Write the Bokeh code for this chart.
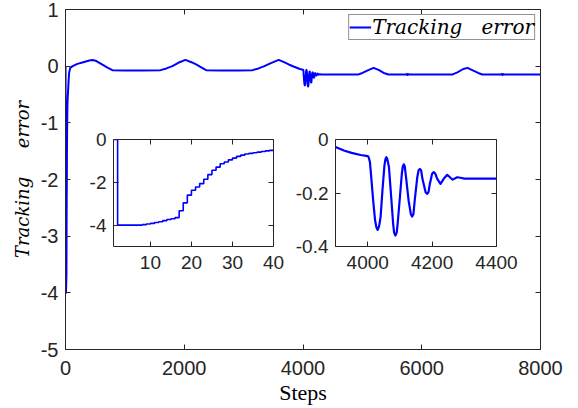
from bokeh.plotting import figure
from bokeh.models import (Range1d, FixedTicker, LinearAxis, Legend, LegendItem,
                          GridBox, CustomJSTickFormatter)
from bokeh.embed import file_html
from bokeh.resources import INLINE

# ---------------- data ----------------
# start-up phase (steps 1..40), staircase
start_steps = list(range(1, 41))
start_err = [0.0, -4.0, -4.0, -4.0, -4.0, -4.0, -4.0, -3.98, -3.95, -3.92,
             -3.88, -3.84, -3.79, -3.74, -3.70, -3.65, -3.33, -2.96, -2.60, -2.37,
             -2.22, -2.06, -1.86, -1.64, -1.44, -1.29, -1.13, -1.05, -0.95, -0.87,
             -0.79, -0.73, -0.68, -0.65, -0.62, -0.59, -0.56, -0.53, -0.51, -0.50]

# steady tracking phase
mid_steps = [50, 60, 80, 120, 200, 300, 400, 455, 520, 600, 700, 790, 1000, 1300,
             1600, 1700, 1800, 1900, 2020, 2120, 2200, 2300, 2370, 2600, 2900, 3150,
             3250, 3350, 3450, 3590, 3680, 3760, 3850]
mid_err = [-0.30, -0.12, -0.03, 0.0, 0.04, 0.07, 0.10, 0.11, 0.09, 0.04, -0.02, -0.07,
           -0.077, -0.077, -0.07, -0.04, 0.0, 0.06, 0.11, 0.07, 0.03, -0.03, -0.07,
           -0.077, -0.077, -0.07, -0.04, 0.0, 0.05, 0.11, 0.07, 0.03, -0.01]

# disturbance around step 4000
osc_steps = [3900, 3926, 3950, 3978, 4000, 4003, 4007, 4011, 4017, 4023, 4027, 4031,
             4035, 4040, 4046, 4052, 4055, 4058, 4061, 4066, 4073, 4079, 4082, 4086,
             4090, 4093, 4100, 4106, 4109, 4112, 4115, 4119, 4127, 4134, 4138, 4142,
             4146, 4154, 4158, 4162, 4166, 4170, 4180, 4185, 4189, 4193, 4200, 4205,
             4210, 4216, 4226, 4236, 4247, 4257, 4264, 4278, 4288, 4300, 4400]
osc_err = [-0.028, -0.041, -0.050, -0.058, -0.062, -0.066, -0.085, -0.141, -0.228,
           -0.303, -0.328, -0.338, -0.326, -0.290, -0.187, -0.097, -0.074, -0.066,
           -0.074, -0.103, -0.216, -0.315, -0.348, -0.359, -0.348, -0.315, -0.216,
           -0.128, -0.101, -0.093, -0.100, -0.141, -0.228, -0.279, -0.288, -0.279,
           -0.228, -0.141, -0.115, -0.110, -0.116, -0.147, -0.198, -0.203, -0.196,
           -0.166, -0.128, -0.122, -0.128, -0.147, -0.166, -0.147, -0.132, -0.143,
           -0.150, -0.141, -0.143, -0.146, -0.146]

# final phase
tail_steps = [4500, 4700, 4935, 5000, 5100, 5190, 5280, 5360, 5440, 5740, 5750, 5760,
              5770, 5780, 6000, 6300, 6520, 6600, 6700, 6770, 6850, 6950, 7020, 7340,
              7350, 7360, 7370, 7380, 7600, 8000]
tail_err = [-0.146, -0.146, -0.146, -0.12, -0.07, -0.03, -0.07, -0.12, -0.146, -0.146,
            -0.136, -0.156, -0.138, -0.146, -0.146, -0.146, -0.146, -0.11, -0.05, -0.03,
            -0.07, -0.12, -0.146, -0.146, -0.136, -0.156, -0.138, -0.146, -0.146, -0.146]

main_xticks = [0, 2000, 4000, 6000, 8000]
main_yticks = [-5, -4, -3, -2, -1, 0, 1]
in1_xticks = [10, 20, 30, 40]
in1_yticks = [-4, -2, 0]
in2_xticks = [4000, 4200, 4400]
in2_yticks = [-0.4, -0.2, 0]

legend_label = "Tracking\u00a0\u00a0\u00a0error"
y_label = "Tracking\u00a0\u00a0\u00a0\u00a0\u00a0error"

# ---------------- styling helpers ----------------
AX = "#262626"
BLUE = "#0000FF"
fmt = CustomJSTickFormatter(code="return tick.toString();")
blank = CustomJSTickFormatter(code="return '';")


def style_axis(ax, ticks, size, standoff):
    ax.ticker = FixedTicker(ticks=ticks)
    ax.formatter = fmt
    ax.axis_line_color = AX
    ax.major_tick_line_color = AX
    ax.major_tick_in = 5
    ax.major_tick_out = 0
    ax.minor_tick_line_color = None
    ax.major_label_text_font = "Liberation Sans"
    ax.major_label_text_font_size = size
    ax.major_label_text_color = AX
    ax.major_label_standoff = standoff


def add_box_axes(fig, xt, yt):
    top = LinearAxis(ticker=FixedTicker(ticks=xt), formatter=blank)
    right = LinearAxis(ticker=FixedTicker(ticks=yt), formatter=blank)
    for a in (top, right):
        a.axis_line_color = AX
        a.major_tick_line_color = AX
        a.major_tick_in = 5
        a.major_tick_out = 0
        a.minor_tick_line_color = None
        a.major_label_standoff = 0
        a.major_label_text_font_size = "0px"
    fig.add_layout(top, "above")
    fig.add_layout(right, "right")


# ---------------- main figure ----------------
all_steps = start_steps + mid_steps + osc_steps[1:] + tail_steps
all_err = start_err + mid_err + osc_err[1:] + tail_err

p = figure(width=578, height=408, x_range=Range1d(0, 8000), y_range=Range1d(-5, 1),
           output_backend="svg", toolbar_location=None,
           min_border_left=65, min_border_right=38, min_border_top=9, min_border_bottom=59)
p.grid.visible = False
p.outline_line_color = None
r = p.line(all_steps, all_err, line_color=BLUE, line_width=2, line_join="round")
xa = p.below[0]
ya = p.left[0]
style_axis(xa, main_xticks, "20px", 11)
style_axis(ya, main_yticks, "20px", 7)
add_box_axes(p, main_xticks, main_yticks)

xa.axis_label = "Steps"
xa.axis_label_text_font = "Liberation Serif"
xa.axis_label_text_font_style = "normal"
xa.axis_label_text_font_size = "22px"
xa.axis_label_text_color = "black"
xa.axis_label_standoff = 2

ya.axis_label = y_label
ya.axis_label_text_font = "DejaVu Serif"
ya.axis_label_text_font_style = "italic"
ya.axis_label_text_font_size = "18px"
ya.axis_label_text_color = "black"
ya.axis_label_standoff = 5

legend = Legend(items=[LegendItem(label=legend_label, renderers=[r])],
                location="top_right", margin=5, padding=0, spacing=0,
                glyph_width=22, glyph_height=16, label_height=16, label_standoff=1,
                label_text_font="DejaVu Serif", label_text_font_style="italic",
                label_text_font_size="20px", label_text_color="black",
                border_line_color=AX, border_line_width=1,
                background_fill_color="white", background_fill_alpha=1)
p.add_layout(legend)

# ---------------- inset 1: start-up ----------------
f1 = figure(width=215, height=148, x_range=Range1d(1, 40), y_range=Range1d(-5, 0),
            output_backend="svg", toolbar_location=None,
            min_border_left=38, min_border_right=17, min_border_top=9, min_border_bottom=32)
f1.grid.visible = False
f1.outline_line_color = None
f1.border_fill_alpha = 0
f1.step(start_steps, start_err, mode="after", line_color=BLUE, line_width=1.6)
style_axis(f1.below[0], in1_xticks, "19px", 9)
style_axis(f1.left[0], in1_yticks, "19px", 7)
add_box_axes(f1, in1_xticks, in1_yticks)

# ---------------- inset 2: disturbance ----------------
f2 = figure(width=230, height=148, x_range=Range1d(3900, 4400), y_range=Range1d(-0.4, 0),
            output_backend="svg", toolbar_location=None,
            min_border_left=45, min_border_right=24, min_border_top=9, min_border_bottom=32)
f2.grid.visible = False
f2.outline_line_color = None
f2.border_fill_alpha = 0
f2.line(osc_steps, osc_err, line_color=BLUE, line_width=2.2, line_join="round")
style_axis(f2.below[0], in2_xticks, "19px", 9)
style_axis(f2.left[0], in2_yticks, "19px", 7)
add_box_axes(f2, in2_xticks, in2_yticks)

layout = GridBox(children=[(p, 0, 0, 3, 4), (f1, 1, 1), (f2, 1, 2)],
                 rows=["130px", "148px", "130px"], cols=["75px", "215px", "230px", "58px"],
                 spacing=0)

open("out.html", "w").write(file_html(layout, INLINE))
